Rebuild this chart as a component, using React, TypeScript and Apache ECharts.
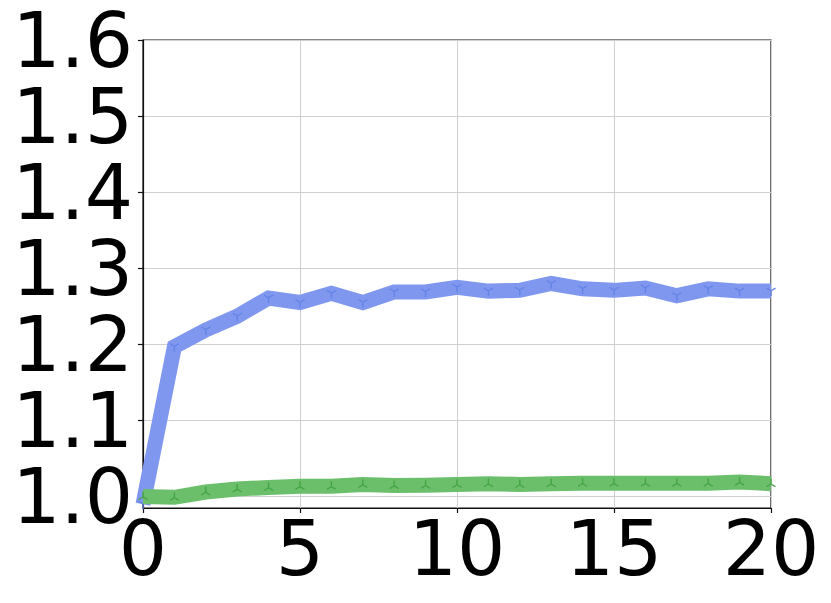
import React, { useEffect, useRef } from "react";
import * as echarts from "echarts";

const xValues = [0, 1, 2, 3, 4, 5, 6, 7, 8, 9, 10, 11, 12, 13, 14, 15, 16, 17, 18, 19, 20];
const blueValues = [0.99, 1.197, 1.219, 1.237, 1.261, 1.255, 1.267, 1.255, 1.269, 1.269, 1.275, 1.27, 1.271, 1.28, 1.273, 1.271, 1.274, 1.264, 1.273, 1.27, 1.27];
const greenValues = [1.0, 0.999, 1.006, 1.01, 1.012, 1.0135, 1.0135, 1.016, 1.0145, 1.015, 1.016, 1.017, 1.016, 1.017, 1.0175, 1.0175, 1.0175, 1.0175, 1.0175, 1.019, 1.017];
const yTicks = [1.0, 1.1, 1.2, 1.3, 1.4, 1.5, 1.6];
const xTicks = [0, 5, 10, 15, 20];

const triDown = "path://M5,5 L5,10 M5,5 L0.67,2.5 M5,5 L9.33,2.5";
const triUp = "path://M5,5 L5,0 M5,5 L0.67,7.5 M5,5 L9.33,7.5";

export default function App() {
  const ref = useRef<HTMLDivElement>(null);
  useEffect(() => {
    if (!ref.current) return;
    const chart = echarts.init(ref.current, null, { renderer: "svg" });
    const font = { fontFamily: "DejaVu Sans", fontSize: 76, color: "#000" };
    chart.setOption({
      animation: false,
      backgroundColor: "#fff",
      grid: [
        { left: 143, right: 60, top: 40, bottom: 95, show: true, borderColor: "#111", borderWidth: 1.2, backgroundColor: "transparent" },
        { left: 143, right: 60, top: 40, bottom: 107 },
      ],
      xAxis: [
        {
          type: "value",
          gridIndex: 0,
          min: xTicks[0],
          max: xTicks[xTicks.length - 1],
          interval: 5,
          axisLine: { show: true, lineStyle: { color: "#111", width: 1.2 } },
          axisTick: { show: true, length: 5, lineStyle: { color: "#111", width: 1.2 } },
          axisLabel: { ...font, margin: 2 },
          splitLine: { show: true, lineStyle: { color: "#cfcfcf", width: 1 } },
        },
        { type: "value", gridIndex: 1, min: 0, max: 20, show: false },
      ],
      yAxis: [
        {
          type: "value",
          gridIndex: 0,
          min: 0.985,
          max: 1.6,
          axisLine: { show: true, lineStyle: { color: "#111", width: 1.2 } },
          axisTick: { show: false },
          axisLabel: { show: false },
          splitLine: { show: false },
        },
        {
          type: "value",
          gridIndex: 1,
          min: yTicks[0],
          max: yTicks[yTicks.length - 1],
          interval: 0.1,
          axisLine: { show: false },
          axisTick: { show: true, length: 5, lineStyle: { color: "#111", width: 1.2 } },
          axisLabel: { ...font, margin: 10, formatter: (v: number) => v.toFixed(1) },
          splitLine: { show: true, lineStyle: { color: "#cfcfcf", width: 1 } },
        },
      ],
      series: [
        {
          type: "line",
          xAxisIndex: 0,
          yAxisIndex: 0,
          data: xValues.map((x, i) => [x, blueValues[i]]),
          lineStyle: { color: "#7f97ee", width: 15, join: "miter" },
          symbol: triDown,
          symbolSize: [9, 8],
          symbolOffset: [0, 1],
          itemStyle: { color: "#6583e6", borderColor: "#6583e6", borderWidth: 1.3 },
          z: 3,
        },
        {
          type: "line",
          xAxisIndex: 0,
          yAxisIndex: 0,
          data: xValues.map((x, i) => [x, greenValues[i]]),
          lineStyle: { color: "#6bbf6b", width: 15, join: "miter" },
          symbol: triUp,
          symbolSize: [9, 8],
          symbolOffset: [0, -1],
          itemStyle: { color: "#44a444", borderColor: "#44a444", borderWidth: 1.3 },
          z: 4,
        },
      ],
    });
    return () => chart.dispose();
  }, []);
  return <div ref={ref} style={{ width: 831, height: 603, position: "absolute", left: 0, top: 0 }} />;
}
